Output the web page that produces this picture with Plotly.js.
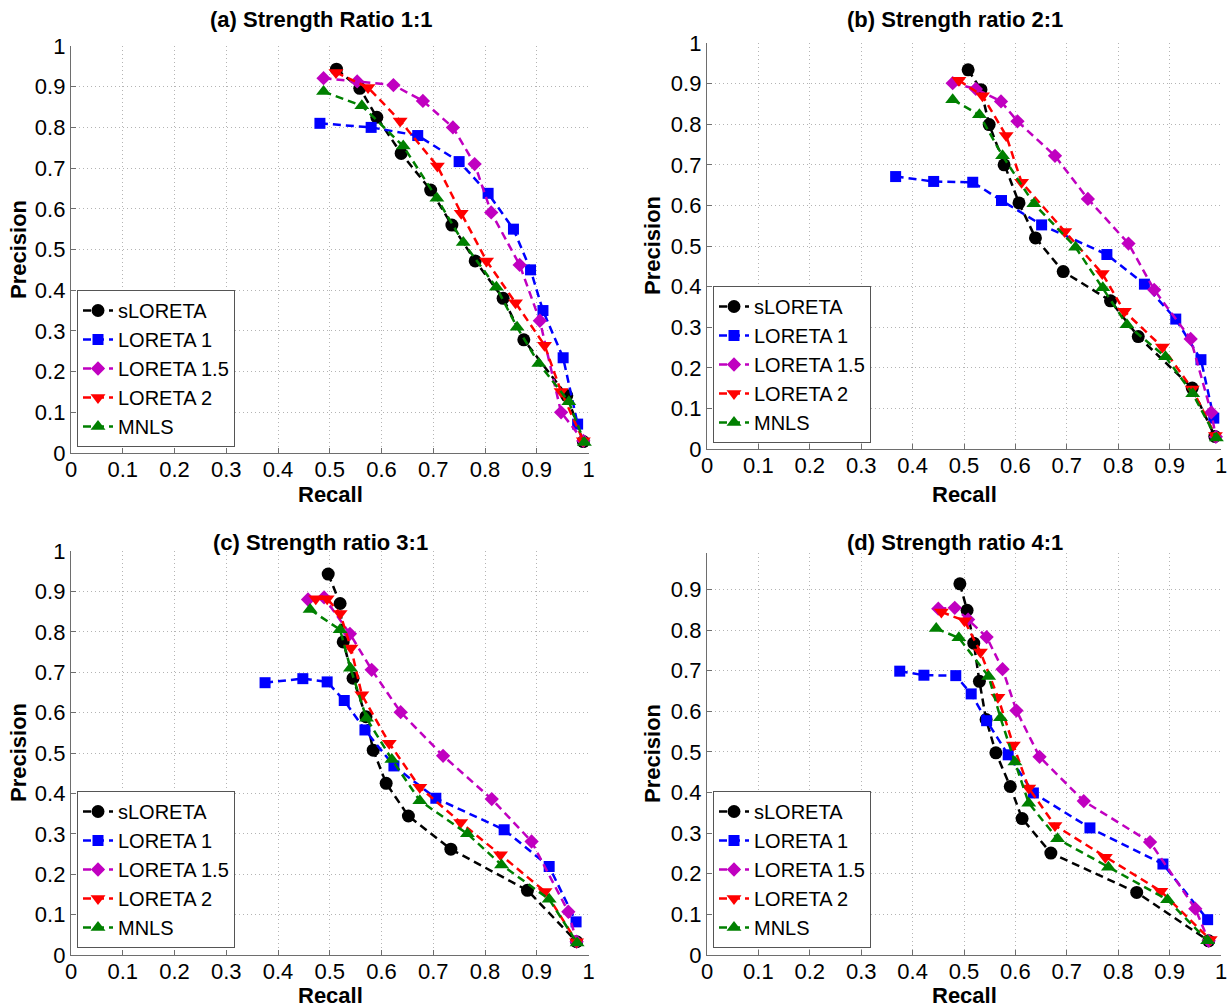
<!DOCTYPE html>
<html>
<head>
<meta charset="utf-8">
<script src="https://cdn.plot.ly/plotly-3.0.1.min.js"></script>
<style>
  html, body { margin: 0; padding: 0; background: #fff; }
  #chart { width: 1228px; height: 1008px; }
</style>
</head>
<body>
<div id="chart"></div>
<script>
// ---------- Data ----------
const seriesNames = ["sLORETA", "LORETA 1", "LORETA 1.5", "LORETA 2", "MNLS"];
const panelTitles = ["(a) Strength Ratio 1:1", "(b) Strength ratio 2:1", "(c) Strength ratio 3:1", "(d) Strength ratio 4:1"];
const xAxisTitle = "Recall";
const yAxisTitle = "Precision";
const tickValues = [0, 0.1, 0.2, 0.3, 0.4, 0.5, 0.6, 0.7, 0.8, 0.9, 1];
const tickLabels = ["0", "0.1", "0.2", "0.3", "0.4", "0.5", "0.6", "0.7", "0.8", "0.9", "1"];
const yTopLimits = [1, 1, 1, 0.99];

// Panel (a) 1:1
const a_sLORETA_recall    = [0.513, 0.558, 0.591, 0.638, 0.695, 0.736, 0.781, 0.835, 0.875, 0.958, 0.990];
const a_sLORETA_precision = [0.943, 0.896, 0.825, 0.736, 0.646, 0.560, 0.472, 0.380, 0.278, 0.141, 0.028];
const a_LORETA1_recall    = [0.481, 0.580, 0.670, 0.750, 0.806, 0.855, 0.888, 0.912, 0.951, 0.979];
const a_LORETA1_precision = [0.810, 0.800, 0.780, 0.716, 0.638, 0.550, 0.450, 0.350, 0.234, 0.071];
const a_LORETA15_recall    = [0.488, 0.553, 0.623, 0.680, 0.738, 0.780, 0.812, 0.867, 0.906, 0.947, 0.990];
const a_LORETA15_precision = [0.921, 0.913, 0.904, 0.865, 0.800, 0.710, 0.591, 0.462, 0.325, 0.100, 0.030];
const a_LORETA2_recall    = [0.512, 0.574, 0.636, 0.708, 0.754, 0.803, 0.859, 0.915, 0.947, 0.990];
const a_LORETA2_precision = [0.935, 0.898, 0.816, 0.705, 0.589, 0.472, 0.369, 0.265, 0.151, 0.030];
const a_MNLS_recall    = [0.488, 0.562, 0.642, 0.707, 0.758, 0.822, 0.862, 0.904, 0.962, 0.992];
const a_MNLS_precision = [0.888, 0.853, 0.754, 0.626, 0.517, 0.407, 0.309, 0.220, 0.126, 0.026];

// Panel (b) 2:1
const b_sLORETA_recall    = [0.508, 0.533, 0.549, 0.578, 0.607, 0.639, 0.693, 0.785, 0.839, 0.944, 0.988];
const b_sLORETA_precision = [0.934, 0.885, 0.799, 0.700, 0.606, 0.520, 0.437, 0.365, 0.277, 0.150, 0.031];
const b_LORETA1_recall    = [0.367, 0.441, 0.517, 0.573, 0.651, 0.778, 0.851, 0.912, 0.961, 0.986];
const b_LORETA1_precision = [0.671, 0.659, 0.657, 0.612, 0.552, 0.479, 0.406, 0.320, 0.220, 0.076];
const b_LORETA15_recall    = [0.478, 0.523, 0.572, 0.604, 0.677, 0.741, 0.820, 0.870, 0.941, 0.981, 0.990];
const b_LORETA15_precision = [0.901, 0.887, 0.856, 0.807, 0.722, 0.616, 0.506, 0.392, 0.271, 0.090, 0.030];
const b_LORETA2_recall    = [0.490, 0.536, 0.582, 0.612, 0.696, 0.769, 0.812, 0.886, 0.944, 0.989];
const b_LORETA2_precision = [0.908, 0.870, 0.772, 0.657, 0.536, 0.432, 0.339, 0.251, 0.148, 0.033];
const b_MNLS_recall    = [0.478, 0.530, 0.575, 0.636, 0.717, 0.770, 0.817, 0.892, 0.945, 0.991];
const b_MNLS_precision = [0.860, 0.823, 0.722, 0.604, 0.497, 0.397, 0.306, 0.227, 0.136, 0.027];

// Panel (c) 3:1
const c_sLORETA_recall    = [0.497, 0.520, 0.526, 0.545, 0.570, 0.584, 0.609, 0.652, 0.734, 0.882, 0.977];
const c_sLORETA_precision = [0.943, 0.870, 0.775, 0.685, 0.590, 0.507, 0.425, 0.344, 0.262, 0.160, 0.033];
const c_LORETA1_recall    = [0.375, 0.448, 0.495, 0.528, 0.568, 0.624, 0.705, 0.837, 0.924, 0.976];
const c_LORETA1_precision = [0.674, 0.684, 0.676, 0.630, 0.557, 0.468, 0.388, 0.310, 0.219, 0.082];
const c_LORETA15_recall    = [0.458, 0.489, 0.539, 0.581, 0.637, 0.719, 0.813, 0.890, 0.961, 0.977];
const c_LORETA15_precision = [0.880, 0.885, 0.795, 0.706, 0.601, 0.493, 0.386, 0.281, 0.107, 0.033];
const c_LORETA2_recall    = [0.473, 0.495, 0.520, 0.541, 0.562, 0.615, 0.674, 0.753, 0.830, 0.916, 0.977];
const c_LORETA2_precision = [0.882, 0.882, 0.845, 0.760, 0.644, 0.524, 0.415, 0.328, 0.248, 0.157, 0.033];
const c_MNLS_recall    = [0.462, 0.520, 0.540, 0.571, 0.620, 0.674, 0.766, 0.832, 0.924, 0.978];
const c_MNLS_precision = [0.855, 0.805, 0.710, 0.586, 0.484, 0.382, 0.300, 0.223, 0.138, 0.030];

// Panel (d) 4:1
const d_sLORETA_recall    = [0.492, 0.506, 0.519, 0.530, 0.543, 0.562, 0.590, 0.613, 0.669, 0.836, 0.976];
const d_sLORETA_precision = [0.914, 0.849, 0.768, 0.674, 0.580, 0.498, 0.415, 0.336, 0.251, 0.154, 0.035];
const d_LORETA1_recall    = [0.375, 0.422, 0.484, 0.514, 0.544, 0.586, 0.635, 0.745, 0.887, 0.974];
const d_LORETA1_precision = [0.699, 0.689, 0.688, 0.643, 0.577, 0.493, 0.399, 0.313, 0.224, 0.087];
const d_LORETA15_recall    = [0.450, 0.482, 0.508, 0.544, 0.575, 0.602, 0.647, 0.733, 0.862, 0.950, 0.976];
const d_LORETA15_precision = [0.853, 0.855, 0.826, 0.783, 0.704, 0.602, 0.488, 0.379, 0.278, 0.114, 0.035];
const d_LORETA2_recall    = [0.456, 0.501, 0.532, 0.566, 0.596, 0.626, 0.677, 0.775, 0.883, 0.979];
const d_LORETA2_precision = [0.845, 0.823, 0.746, 0.635, 0.517, 0.411, 0.319, 0.241, 0.157, 0.038];
const d_MNLS_recall    = [0.446, 0.490, 0.548, 0.571, 0.599, 0.626, 0.682, 0.781, 0.896, 0.974];
const d_MNLS_precision = [0.804, 0.781, 0.686, 0.584, 0.475, 0.374, 0.286, 0.216, 0.136, 0.035];

// ---------- Styles ----------
const seriesStyle = [
  { color: "#000000", symbol: "circle", size: 13 },
  { color: "#0000ff", symbol: "square", size: 11 },
  { color: "#c000c0", symbol: "diamond", size: 11 },
  { color: "#ff0000", symbol: "triangle-down", size: 13 },
  { color: "#008000", symbol: "triangle-up", size: 13 }
];

const panels = [
  [[a_sLORETA_recall, a_sLORETA_precision], [a_LORETA1_recall, a_LORETA1_precision], [a_LORETA15_recall, a_LORETA15_precision], [a_LORETA2_recall, a_LORETA2_precision], [a_MNLS_recall, a_MNLS_precision]],
  [[b_sLORETA_recall, b_sLORETA_precision], [b_LORETA1_recall, b_LORETA1_precision], [b_LORETA15_recall, b_LORETA15_precision], [b_LORETA2_recall, b_LORETA2_precision], [b_MNLS_recall, b_MNLS_precision]],
  [[c_sLORETA_recall, c_sLORETA_precision], [c_LORETA1_recall, c_LORETA1_precision], [c_LORETA15_recall, c_LORETA15_precision], [c_LORETA2_recall, c_LORETA2_precision], [c_MNLS_recall, c_MNLS_precision]],
  [[d_sLORETA_recall, d_sLORETA_precision], [d_LORETA1_recall, d_LORETA1_precision], [d_LORETA15_recall, d_LORETA15_precision], [d_LORETA2_recall, d_LORETA2_precision], [d_MNLS_recall, d_MNLS_precision]]
];

const W = 1228, H = 1008;
const FONT = "Liberation Sans, Arial, Helvetica, sans-serif";
// pixel boxes of the four axes: [left, right, top(value=yTop), bottom(value=0)]
const boxes = [
  [71, 588.5, 46, 453],
  [707, 1221, 43, 449],
  [71, 588.5, 551, 955],
  [707, 1221, 553, 955]
];
// legend boxes: [left, bottom] in pixels
const legendPos = [[77, 447], [713, 443], [77, 948], [713, 948]];
// axis-title centres in pixels: [recallX, recallY, precisionX, precisionY]
const axisTitlePos = [
  [330, 494, 18, 250],
  [964, 494, 652, 246],
  [330, 995, 18, 753],
  [964, 995, 652, 754]
];

const traces = [];
panels.forEach((panel, p) => {
  const sfx = p === 0 ? "" : String(p + 1);
  panel.forEach((xy, s) => {
    const st = seriesStyle[s];
    traces.push({
      type: "scatter",
      mode: "lines+markers",
      x: xy[0], y: xy[1],
      name: seriesNames[s],
      xaxis: "x" + sfx, yaxis: "y" + sfx,
      legend: "legend" + sfx,
      showlegend: true,
      cliponaxis: false,
      line: { color: st.color, width: 2.5, dash: "8px,5px" },
      marker: { color: st.color, symbol: st.symbol, size: st.size, line: { width: 0 } }
    });
  });
});

const layout = {
  width: W, height: H,
  margin: { l: 0, r: 0, t: 0, b: 0 },
  paper_bgcolor: "#ffffff",
  plot_bgcolor: "#ffffff",
  font: { family: FONT, size: 22, color: "#000000" },
  annotations: []
};

boxes.forEach((b, p) => {
  const sfx = p === 0 ? "" : String(p + 1);
  const axCommon = {
    tickmode: "array", tickvals: tickValues, ticktext: tickLabels,
    ticks: "inside", ticklen: 5, tickwidth: 1, tickcolor: "#6e6e6e",
    showline: true, linecolor: "#6e6e6e", linewidth: 1.2, mirror: false,
    showgrid: true, gridcolor: "#b4b4b4", gridwidth: 1, griddash: "1px,3px",
    zeroline: false, fixedrange: true,
    tickfont: { family: FONT, size: 22, color: "#000" }
  };
  layout["xaxis" + sfx] = Object.assign({}, axCommon, {
    range: [0, 1],
    domain: [b[0] / W, b[1] / W],
    anchor: "y" + sfx,
    ticklabelstandoff: -4
  });
  layout["yaxis" + sfx] = Object.assign({}, axCommon, {
    range: [0, yTopLimits[p]],
    domain: [1 - b[3] / H, 1 - b[2] / H],
    anchor: "x" + sfx
  });
  layout["legend" + sfx] = {
    x: legendPos[p][0] / W, y: 1 - legendPos[p][1] / H,
    xanchor: "left", yanchor: "bottom",
    bgcolor: "#ffffff", bordercolor: "#555555", borderwidth: 1,
    font: { family: FONT, size: 20, color: "#000" },
    tracegroupgap: 0, itemwidth: 30
  };
  // panel title
  layout.annotations.push({
    text: panelTitles[p],
    xref: "paper", yref: "paper",
    x: ((b[0] + b[1]) / 2 - 9) / W, y: 1 - (p < 2 ? 19 : 542) / H,
    xanchor: "center", yanchor: "middle",
    showarrow: false,
    font: { family: FONT, size: 22, weight: "bold", color: "#000" }
  });
  // axis titles
  const t = axisTitlePos[p];
  layout.annotations.push({
    text: xAxisTitle, xref: "paper", yref: "paper",
    x: t[0] / W, y: 1 - t[1] / H, xanchor: "center", yanchor: "middle",
    showarrow: false, borderpad: 0,
    font: { family: FONT, size: 22, weight: "bold", color: "#000" }
  });
  layout.annotations.push({
    text: yAxisTitle, xref: "paper", yref: "paper", textangle: -90,
    x: t[2] / W, y: 1 - t[3] / H, xanchor: "center", yanchor: "middle",
    showarrow: false, font: { family: FONT, size: 22, weight: "bold", color: "#000" }
  });
});

Plotly.newPlot("chart", traces, layout, { staticPlot: true, displayModeBar: false });
</script>
</body>
</html>
